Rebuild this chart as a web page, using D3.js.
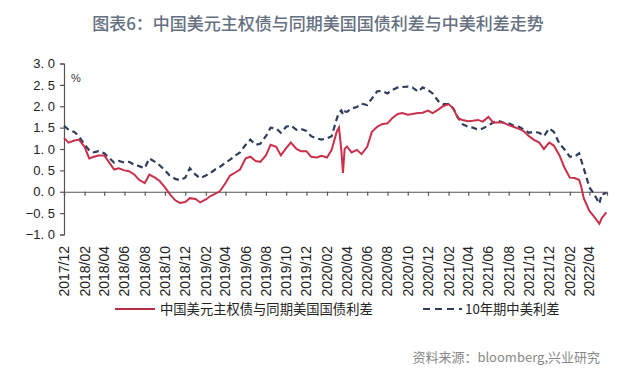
<!DOCTYPE html>
<html><head><meta charset="utf-8">
<script src="https://cdn.jsdelivr.net/npm/d3@7"></script>
<style>
html,body{margin:0;padding:0;background:#fff;}
svg{display:block;}
</style>
</head><body>
<svg id="c" width="640" height="380"></svg>
<script>
const titleText = "图表6：中国美元主权债与同期美国国债利差与中美利差走势";
const seriesNames = ["中国美元主权债与同期美国国债利差", "10年期中美利差"];
const sourceText = "资料来源：bloomberg,兴业研究";
const dates = [
"2017-12-01","2017-12-15","2018-01-01","2018-01-15","2018-02-01","2018-02-15","2018-03-01","2018-03-15",
"2018-04-01","2018-04-15","2018-05-01","2018-05-15","2018-06-01","2018-06-15","2018-07-01","2018-07-15",
"2018-08-01","2018-08-15","2018-09-01","2018-09-15","2018-10-01","2018-10-15","2018-11-01","2018-11-15",
"2018-12-01","2018-12-15","2019-01-01","2019-01-15","2019-02-01","2019-02-15","2019-03-01","2019-03-15",
"2019-04-01","2019-04-15","2019-05-01","2019-05-15","2019-06-01","2019-06-15","2019-07-01","2019-07-15",
"2019-08-01","2019-08-15","2019-09-01","2019-09-15","2019-10-01","2019-10-15","2019-11-01","2019-11-15",
"2019-12-01","2019-12-15","2020-01-01","2020-01-15","2020-02-01","2020-02-15","2020-03-01","2020-03-08",
"2020-03-15","2020-03-20","2020-03-25","2020-04-01","2020-04-15","2020-05-01","2020-05-15","2020-06-01",
"2020-06-15","2020-07-01","2020-07-15","2020-08-01","2020-08-15","2020-09-01","2020-09-15","2020-10-01",
"2020-10-15","2020-11-01","2020-11-15","2020-12-01","2020-12-15","2021-01-01","2021-01-15","2021-02-01",
"2021-02-15","2021-03-01","2021-03-15","2021-04-01","2021-04-15","2021-05-01","2021-05-15","2021-06-01",
"2021-06-15","2021-07-01","2021-07-15","2021-08-01","2021-08-15","2021-09-01","2021-09-15","2021-10-01",
"2021-10-15","2021-11-01","2021-11-15","2021-12-01","2021-12-15","2022-01-01","2022-01-15","2022-02-01",
"2022-02-15","2022-03-01","2022-03-08","2022-03-15","2022-04-01","2022-04-15","2022-05-01","2022-05-08",
"2022-05-15","2022-05-22"];
const sovereignSpread = [
1.26,1.15,1.20,1.22,1.05,0.78,0.82,0.85,
0.85,0.70,0.52,0.55,0.50,0.48,0.40,0.28,
0.20,0.40,0.33,0.25,0.10,-0.05,-0.20,-0.26,
-0.24,-0.15,-0.17,-0.25,-0.18,-0.10,-0.05,0.01,
0.20,0.38,0.45,0.52,0.78,0.82,0.72,0.70,
0.85,1.10,1.05,0.85,1.02,1.15,1.00,0.95,
0.95,0.82,0.80,0.84,0.80,0.98,1.40,1.50,
0.98,0.44,1.00,1.06,0.92,0.98,0.88,1.05,
1.40,1.52,1.58,1.60,1.72,1.82,1.84,1.80,
1.82,1.84,1.85,1.90,1.84,1.92,2.00,2.05,
1.95,1.72,1.68,1.65,1.66,1.68,1.64,1.75,
1.62,1.62,1.62,1.56,1.52,1.47,1.42,1.30,
1.22,1.15,1.00,1.15,1.08,0.85,0.58,0.33,
0.32,0.28,0.10,-0.15,-0.45,-0.58,-0.75,-0.62,
-0.55,-0.48];
const cnUs10y = [
1.54,1.45,1.40,1.30,1.10,0.97,0.92,0.95,
0.90,0.80,0.68,0.72,0.68,0.70,0.63,0.60,
0.55,0.78,0.70,0.62,0.50,0.38,0.30,0.27,
0.33,0.55,0.40,0.32,0.38,0.44,0.52,0.58,
0.68,0.75,0.85,0.92,1.10,1.22,1.10,1.12,
1.30,1.50,1.48,1.38,1.52,1.55,1.45,1.47,
1.42,1.30,1.25,1.22,1.25,1.30,1.70,1.85,
1.90,1.80,1.88,1.87,1.95,1.98,2.06,2.03,
2.18,2.35,2.36,2.30,2.38,2.44,2.45,2.46,
2.44,2.34,2.44,2.38,2.30,2.12,2.05,2.05,
1.95,1.74,1.58,1.52,1.50,1.45,1.48,1.55,
1.62,1.66,1.62,1.60,1.55,1.52,1.46,1.38,
1.40,1.38,1.30,1.48,1.40,1.12,1.00,0.82,
0.82,0.90,0.72,0.55,0.10,-0.05,-0.28,-0.05,
-0.05,-0.02];
const xTickLabels = ["2017/12","2018/02","2018/04","2018/06","2018/08","2018/10","2018/12",
"2019/02","2019/04","2019/06","2019/08","2019/10","2019/12","2020/02","2020/04","2020/06",
"2020/08","2020/10","2020/12","2021/02","2021/04","2021/06","2021/08","2021/10","2021/12",
"2022/02","2022/04"];
const yTicks = [3.0,2.5,2.0,1.5,1.0,0.5,0.0,-0.5,-1.0];
const yTickLabels = ["3. 0","2. 5","2. 0","1. 5","1. 0","0. 5","0. 0","\u22120. 5","\u22121. 0"];

const parse = d3.timeParse("%Y-%m-%d");
const parseTick = d3.timeParse("%Y/%m");
const data = dates.map((d,i)=>({date:parse(d), a:sovereignSpread[i], b:cnUs10y[i]}));

const svg = d3.select("#c");
const x = d3.scaleTime().domain([parse("2017-12-01"), parse("2022-05-24")]).range([64, 607]);
const y = d3.scaleLinear().domain([-1, 3]).range([234.5, 63.5]);

// title
svg.append("text").attr("x", 318).attr("y", 30).attr("text-anchor","middle")
  .attr("font-family","'Noto Sans CJK SC', sans-serif").attr("font-size",17).attr("font-weight",500)
  .attr("fill","#657080").text(titleText);

// y axis
const yAxis = d3.axisLeft(y).tickValues(yTicks).tickSize(4).tickPadding(5)
  .tickFormat((d,i)=>yTickLabels[i]);
const gy = svg.append("g").attr("transform","translate(64,0)").call(yAxis);
gy.select(".domain").attr("stroke","#555").attr("stroke-width",1.2);
gy.selectAll(".tick line").attr("stroke","#555").attr("stroke-width",1.2);
gy.selectAll(".tick text").attr("font-family","'Liberation Sans', Arial, sans-serif")
  .attr("font-size",13).attr("fill","#222");

svg.append("text").attr("x",71).attr("y",82).attr("font-family","'Liberation Sans', Arial, sans-serif")
  .attr("font-size",11).attr("fill","#333").text("%");

// x axis at zero
const tickDates = xTickLabels.map(t=>parseTick(t));
const xAxis = d3.axisBottom(x).tickValues(tickDates).tickSize(4).tickFormat("");
const gx = svg.append("g").attr("transform",`translate(0,${y(0)})`).call(xAxis);
gx.select(".domain").attr("stroke","#555").attr("stroke-width",1.2);
gx.selectAll(".tick line").attr("stroke","#555").attr("stroke-width",1.2);

svg.append("g").selectAll("text").data(xTickLabels).join("text")
  .attr("transform",(d,i)=>`translate(${x(tickDates[i])+5},246) rotate(-90)`)
  .attr("text-anchor","end")
  .attr("font-family","'Liberation Sans', Arial, sans-serif").attr("font-size",14).attr("fill","#222")
  .text(d=>d);

// lines
const lineB = d3.line().x(d=>x(d.date)).y(d=>y(d.b));
const lineA = d3.line().x(d=>x(d.date)).y(d=>y(d.a));
svg.append("path").datum(data).attr("d",lineB).attr("fill","none")
  .attr("stroke","#2f3d5a").attr("stroke-width",2.2).attr("stroke-dasharray","6,4");
svg.append("path").datum(data).attr("d",lineA).attr("fill","none")
  .attr("stroke","#c9314b").attr("stroke-width",2);

// legend
const lg = svg.append("g");
lg.append("line").attr("x1",115).attr("x2",155).attr("y1",309).attr("y2",309)
  .attr("stroke","#b52d45").attr("stroke-width",2.2);
lg.append("text").attr("x",160).attr("y",314).attr("font-family","'Noto Sans CJK SC', sans-serif")
  .attr("font-size",13.3).attr("fill","#222").text(seriesNames[0]);
lg.append("line").attr("x1",423).attr("x2",462).attr("y1",309).attr("y2",309)
  .attr("stroke","#2f3d5a").attr("stroke-width",2.2).attr("stroke-dasharray","7,5");
lg.append("text").attr("x",465).attr("y",314).attr("font-family","'Noto Sans CJK SC', sans-serif")
  .attr("font-size",13.3).attr("fill","#222").text(seriesNames[1]);

// source
svg.append("text").attr("x",600).attr("y",362).attr("text-anchor","end")
  .attr("font-family","'Noto Sans CJK SC', sans-serif").attr("font-size",13).attr("fill","#888")
  .text(sourceText);
</script>
</body></html>
